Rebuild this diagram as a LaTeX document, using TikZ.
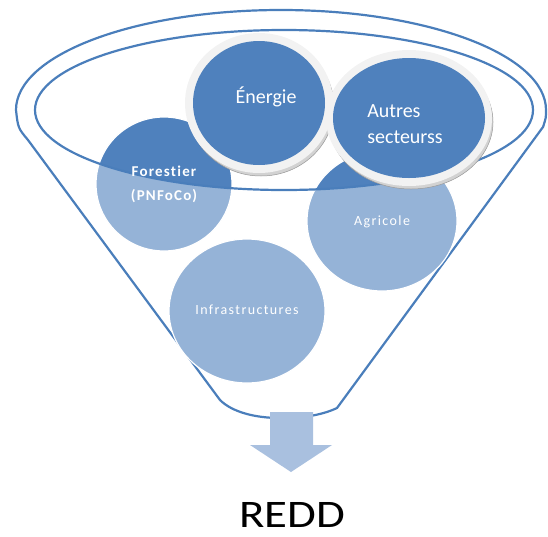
\documentclass[tikz,border=0pt]{standalone}
\usepackage{fontspec}
\setmainfont{Carlito}
\usepackage{graphicx}
\usetikzlibrary{shapes.geometric}
\definecolor{darkb}{HTML}{4F81BD}
\definecolor{lightb}{HTML}{95B3D7}
\definecolor{rim}{HTML}{F2F2F2}
\definecolor{edge}{HTML}{4A7EBB}
\definecolor{arr}{HTML}{A9C0DF}
\begin{document}
\begin{tikzpicture}
[x=1pt,y=-1pt]
\tikzset{disc/.style={ellipse,inner sep=0pt,draw=white,line width=1.2pt}}
\tikzset{lbl/.style={text=white,align=center}}
\tikzset{funnel/.style={draw=edge,line width=2.2pt}}
\tikzset{shade/.style={disc,fill=gray!35,draw=gray!80,line width=.5pt}}
\useasboundingbox (0,0) rectangle (548,536);

% funnel body
\draw [funnel] (220,400) -- (28,140) .. controls (18,128) .. (16,110)
  arc [start angle=180,end angle=360,x radius=265,y radius=100]
  .. controls (546,118) .. (543,127) -- (337,408)
  .. controls (320,416) and (300,418) .. (280,418)
  .. controls (255,418) and (232,412) .. (220,400);

% lower discs
\node [disc,fill=lightb,minimum width=136,minimum height=134] (forest) at (164,184) {};
\node [disc,fill=lightb,minimum width=150,minimum height=140] (agri) at (382,221) {};
\node [disc,fill=lightb,minimum width=156,minimum height=144] (infra) at (247,311) {};

% part inside the rim is darker
\begin{scope}
\clip (284,110) ellipse [x radius=249,y radius=80];
\node [disc,fill=darkb,minimum width=136,minimum height=134] (forestin) at (forest) {};
\node [disc,fill=darkb,minimum width=150,minimum height=140] (agriin) at (agri) {};
\end{scope}
\draw [funnel] (284,110) ellipse [x radius=249,y radius=80];

% top discs
\node [shade,minimum width=146,minimum height=138] (enshade) at (261,107) {};
\node [disc,fill=rim,draw=none,minimum width=148,minimum height=140] (enring) at (259,103) {};
\node [disc,fill=darkb,draw=none,minimum width=132,minimum height=124] (energy) at (259,103) {};
\node [shade,minimum width=164,minimum height=134] (aushade) at (411,122) {};
\node [disc,fill=rim,draw=none,minimum width=166,minimum height=136] (auring) at (409,118) {};
\node [disc,fill=darkb,draw=none,minimum width=152,minimum height=120] (autres) at (409,118) {};

% labels
\node [lbl,font=\fontsize{20}{26}\selectfont] (entxt) at (266,97) {Énergie};
\node [lbl,align=left,font=\fontsize{20}{26}\selectfont] (autxt) at (405,124) {Autres\\secteurss};
\node [lbl,font=\bfseries\fontsize{15}{24}\selectfont\addfontfeature{LetterSpace=8,Ligatures=NoCommon}] (fotxt) at (164,184) {Forestier\\(PNFoCo)};
\node [lbl,font=\fontsize{14}{17}\selectfont\addfontfeature{LetterSpace=10}] (agtxt) at (382,222) {Agricole};
\node [lbl,font=\fontsize{14}{17}\selectfont\addfontfeature{LetterSpace=10}] (intxt) at (247,310) {Infrastructures};

% outlet
\fill [arr] (270,412) -- (313,412) -- (313,445) -- (332,445) -- (291,472) -- (250,445) -- (270,445) -- cycle;
\node [font=\fontsize{39}{39}\selectfont] (redd) at (292,515) {\scalebox{1.2}[1]{REDD}};
\end{tikzpicture}
\end{document}
